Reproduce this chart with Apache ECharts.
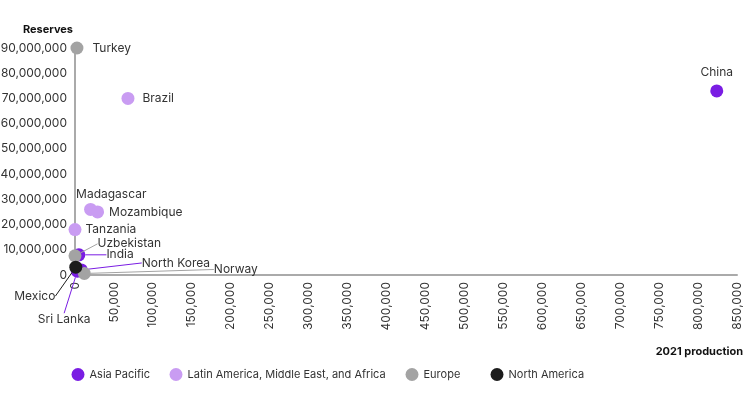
<!DOCTYPE html>
<html><head><meta charset="utf-8">
<script src="https://cdn.jsdelivr.net/npm/echarts@6/dist/echarts.min.js"></script>
<style>html,body{margin:0;padding:0;background:#fff}#c{width:743px;height:393px}</style>
</head><body><div id="c"></div>
<script>
const regions = ['Asia Pacific', 'Latin America, Middle East, and Africa', 'Europe', 'North America'];
const colors = ['#7a1de3', '#c99cf2', '#a3a3a3', '#1c1c1c'];

const apNames = ['China', 'India', 'North Korea', 'Sri Lanka'];
const apProd = [824000, 5000, 8100, 3000];
const apRes = [73000000, 8000000, 2000000, 1500000];

const laNames = ['Brazil', 'Madagascar', 'Mozambique', 'Tanzania'];
const laProd = [68000, 20000, 29000, 0];
const laRes = [70000000, 26000000, 25000000, 18000000];

const euNames = ['Turkey', 'Uzbekistan', 'Norway'];
const euProd = [2500, 0, 12000];
const euRes = [90000000, 7600000, 600000];

const naNames = ['Mexico'];
const naProd = [1000];
const naRes = [3100000];

const xTicks = { min: 0, max: 850000, interval: 50000 };
const yTicks = { min: 0, max: 90000000, interval: 10000000 };

// label placement (style only)
const labelPos = {
  'China': { position: 'top', distance: 6 },
  'Brazil': { position: 'right', distance: 8 },
  'Turkey': { position: 'right', distance: 9 },
  'Mozambique': { position: 'right', distance: 5 },
  'Tanzania': { position: 'right', distance: 4 }
};
const noLine = { 'Madagascar': true };
const moved = {
  'Madagascar': [-26, -15],
  'Uzbekistan': [11, -12],
  'India': [16, 0],
  'North Korea': [49, -7],
  'Norway': [118, -4],
  'Mexico': [-73, 29],
  'Sri Lanka': [-51, 48]
};

function mk(names, xs, ys) {
  return names.map((n, i) => {
    const item = { name: n, value: [xs[i], ys[i]] };
    if (labelPos[n]) item.label = Object.assign({}, labelPos[n]);
    if (labelPos[n] || noLine[n]) item.labelLine = { show: false };
    return item;
  });
}
const seriesData = [
  mk(apNames, apProd, apRes),
  mk(laNames, laProd, laRes),
  mk(euNames, euProd, euRes),
  mk(naNames, naProd, naRes)
];

const font = 'Inter, "Noto Sans", sans-serif';
const fmt = v => v.toLocaleString('en-US');

const chart = echarts.init(document.getElementById('c'), null, { renderer: 'canvas' });
const legendLefts = [71.5, 169.5, 405.5, 490.5];
chart.setOption({
  animation: false,
  textStyle: { fontFamily: font },
  grid: { left: 75, right: 6, top: 48, bottom: 118, containLabel: false, outerBoundsMode: 'none' },
  legend: regions.map((r, i) => ({
    data: [r], left: legendLefts[i], top: 368, padding: 0, icon: 'circle', itemWidth: 13, itemHeight: 13,
    itemGap: 6, textStyle: { fontSize: 11, color: '#333', fontFamily: font }, selectedMode: false
  })),
  xAxis: {
    type: 'value', min: xTicks.min, max: xTicks.max, interval: xTicks.interval,
    name: '2021 production', nameLocation: 'end', nameGap: 6,
    nameTextStyle: { align: 'right', verticalAlign: 'top', padding: [71, 0, 0, 0], fontWeight: 'bold', fontSize: 11, color: '#111', fontFamily: font },
    axisLine: { show: true, onZero: false, lineStyle: { color: '#aaa', width: 2 } },
    axisTick: { show: false },
    splitLine: { show: false },
    axisLabel: { rotate: 90, margin: 7, fontSize: 12, color: '#333', formatter: fmt, fontFamily: font }
  },
  yAxis: {
    type: 'value', min: yTicks.min, max: yTicks.max, interval: yTicks.interval,
    name: 'Reserves', nameLocation: 'end', nameGap: 13,
    nameTextStyle: { align: 'right', fontWeight: 'bold', fontSize: 11, color: '#111', fontFamily: font, padding: [0, 2, 0, 0] },
    axisLine: { show: true, onZero: false, lineStyle: { color: '#aaa', width: 2 } },
    axisTick: { show: false },
    splitLine: { show: false },
    axisLabel: { margin: 8, fontSize: 12, color: '#333', formatter: fmt, fontFamily: font }
  },
  series: regions.map((r, i) => ({
    type: 'scatter', name: r, data: seriesData[i], symbolSize: 13,
    itemStyle: { color: colors[i], opacity: 1 },
    label: { show: true, position: 'right', distance: 5, formatter: '{b}', fontSize: 12, color: '#333', fontFamily: font },
    labelLine: { show: true, lineStyle: { color: colors[i], width: 1 } },
    labelLayout: function (p) {
      const m = moved[p.text];
      if (m) return { dx: m[0], dy: m[1] };
      return {};
    },
    z: 2 + i
  }))
});
</script></body></html>
